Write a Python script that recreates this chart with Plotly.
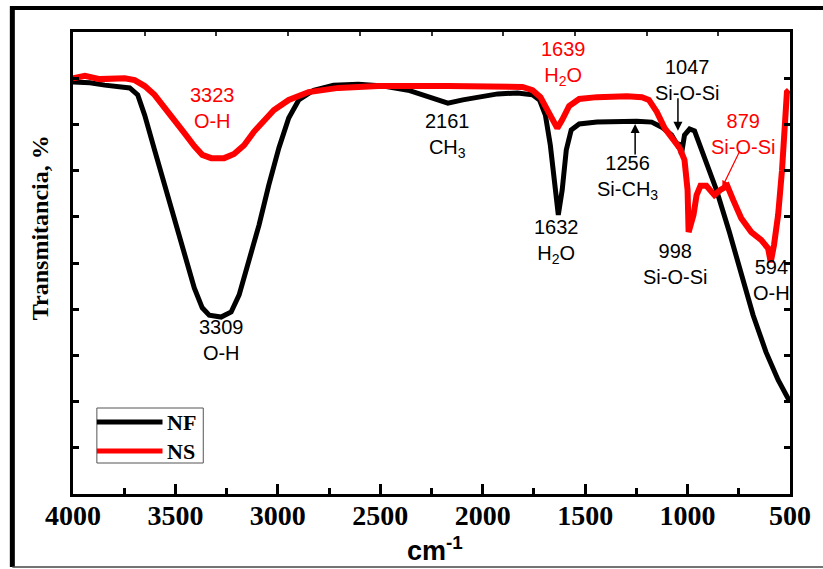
import plotly.graph_objects as go

# ---------------- data ----------------
nf_wn = [4000, 3917, 3845, 3772, 3723, 3684, 3650, 3602, 3553, 3505, 3456, 3408, 3369, 3335,
         3277, 3228, 3189, 3141, 3092, 3044, 2995, 2947, 2898, 2825, 2728, 2607, 2485, 2364,
         2267, 2170, 2097, 2024, 1927, 1830, 1757, 1723, 1694, 1670, 1650, 1631, 1612, 1592,
         1568, 1529, 1442, 1345, 1248, 1175, 1126, 1078, 1049, 1039, 1030, 1015, 990, 966,
         932, 898, 859, 796, 738, 680, 617, 558, 500]
nf_t = [89.2, 89.0, 88.5, 88.3, 87.9, 86.4, 82.0, 74.5, 66.9, 59.3, 51.7, 44.6, 40.3, 38.7,
        38.3, 39.4, 43.1, 50.2, 58.2, 66.9, 74.9, 81.4, 85.3, 87.4, 88.5, 88.7, 88.3, 87.4,
        86.1, 84.6, 85.3, 85.9, 86.6, 86.8, 86.4, 85.3, 82.0, 75.5, 66.9, 60.4, 65.8, 74.5,
        78.8, 80.1, 80.5, 80.7, 80.7, 80.5, 79.4, 77.7, 75.5, 76.0, 73.5, 77.7, 79.0, 78.6,
        74.5, 70.1, 65.8, 56.7, 47.4, 38.7, 30.7, 24.7, 19.9]

ns_wn = [4000, 3942, 3869, 3796, 3748, 3699, 3650, 3602, 3529, 3456, 3408, 3369, 3325, 3262,
         3214, 3165, 3117, 3068, 3019, 2947, 2850, 2704, 2510, 2170, 1927, 1806, 1757, 1718,
         1684, 1655, 1636, 1612, 1578, 1529, 1442, 1296, 1223, 1189, 1150, 1112, 1073, 1039,
         1015, 1000, 995, 971, 956, 937, 908, 869, 840, 806, 777, 738, 689, 641, 607, 594,
         578, 558, 539, 524, 515, 505]
ns_t = [90.0, 90.5, 89.8, 89.8, 90.0, 89.6, 88.3, 86.4, 82.5, 78.1, 75.3, 73.4, 72.7, 72.7,
        73.6, 75.5, 78.4, 81.0, 83.1, 85.3, 87.0, 87.9, 88.3, 88.3, 88.3, 88.1, 87.4, 85.9,
        83.1, 80.5, 79.2, 81.0, 84.0, 85.5, 85.9, 86.1, 85.9, 85.3, 82.7, 79.2, 76.6, 74.9,
        72.3, 65.8, 56.7, 60.4, 64.7, 66.7, 66.7, 64.7, 65.8, 66.7, 63.6, 59.7, 56.7, 55.0,
        53.2, 50.2, 53.9, 60.4, 70.1, 83.1, 87.0, 87.4]

series_names = ["NF", "NS"]
series_colors = ["#000000", "#ff0000"]

x_ticks = [4000, 3500, 3000, 2500, 2000, 1500, 1000, 500]

# peak labels: (wavenumber, y centre, text, color)
peak_labels = [
    (3320, 83.6, "3323<br>O-H", "#ff0000"),
    (3277, 33.3, "3309<br>O-H", "#000000"),
    (2170, 77.5, "2161<br>CH<sub>3</sub>", "#000000"),
    (1607, 93.2, "1639<br>H<sub>2</sub>O", "#ff0000"),
    (1641, 54.6, "1632<br>H<sub>2</sub>O", "#000000"),
    (1291, 68.4, "1256<br>Si-CH<sub>3</sub>", "#000000"),
    (1005, 89.6, "1047<br>Si-O-Si", "#000000"),
    (1063, 49.7, "998<br>Si-O-Si", "#000000"),
    (728, 78.0, "879<br>Si-O-Si", "#ff0000"),
    (588, 46.4, "594<br>O-H", "#000000"),
]

# ---------------- geometry helpers ----------------
W, H = 823, 569
L, R, T, B = 73, 29, 32, 75
PW, PH = W - L - R, H - T - B


def px(x):
    return (x - L) / PW


def py(y):
    return 1 - (y - T) / PH


serif = "Liberation Serif, Times New Roman, serif"
sans = "Liberation Sans, Arial, sans-serif"

fig = go.Figure()
fig.add_trace(go.Scatter(x=nf_wn, y=nf_t, mode="lines", name=series_names[0],
                         line=dict(color=series_colors[0], width=5), showlegend=False))
fig.add_trace(go.Scatter(x=ns_wn, y=ns_t, mode="lines", name=series_names[1],
                         line=dict(color=series_colors[1], width=6), showlegend=False))
# empty trace to activate the top tick axis
fig.add_trace(go.Scatter(x=[], y=[], xaxis="x2", showlegend=False, hoverinfo="skip"))

fig.update_layout(
    width=W, height=H,
    margin=dict(l=L, r=R, t=T, b=B, pad=0),
    paper_bgcolor="white", plot_bgcolor="white",
    font=dict(family=serif, color="black"),
    xaxis=dict(range=[4000, 500], tickvals=x_ticks, ticks="inside", ticklen=10, tickwidth=3,
               tickcolor="black", showline=True, linewidth=3, linecolor="black", mirror=True,
               showgrid=False, zeroline=False, ticklabelstandoff=-6,
               tickfont=dict(family=serif, size=28, color="black", weight="bold"),
               minor=dict(dtick=250, ticks="inside", ticklen=6, tickwidth=2.5, tickcolor="black")),
    xaxis2=dict(overlaying="x", side="top", range=[0, 10], dtick=1, ticks="inside", ticklen=4,
                tickwidth=1.5, tickcolor="#333", showticklabels=False, showgrid=False,
                zeroline=False, showline=False),
    yaxis=dict(range=[0, 100], dtick=10, ticks="inside", ticklen=6, tickwidth=2.5,
               tickcolor="black", showline=True, linewidth=3, linecolor="black", mirror="ticks",
               showgrid=False, zeroline=False, showticklabels=False),
    showlegend=False,
)

# peak labels
for xw, yv, txt, col in peak_labels:
    fig.add_annotation(x=xw, y=yv, text=txt, showarrow=False, xanchor="center",
                       yanchor="middle", font=dict(family=sans, size=20, color=col))

# arrows
fig.add_annotation(x=1256, y=80.1, ax=0, ay=32, text="", showarrow=True, arrowhead=2,
                   arrowsize=1.2, arrowwidth=1.5, arrowcolor="black")
fig.add_annotation(x=1047, y=78.6, ax=0, ay=-34, text="", showarrow=True, arrowhead=2,
                   arrowsize=1.2, arrowwidth=1.5, arrowcolor="black")
fig.add_annotation(x=830, y=66.5, ax=18, ay=-37, text="", showarrow=True, arrowhead=2,
                   arrowsize=1.0, arrowwidth=1.2, arrowcolor="#ff0000")

# axis titles
fig.add_annotation(xref="paper", yref="paper", x=px(40), y=py(228), text="Transmitancia, %",
                   textangle=-90, showarrow=False, xanchor="center", yanchor="middle",
                   font=dict(family=serif, size=24, color="black", weight="bold"))
fig.add_annotation(xref="paper", yref="paper", x=px(437), y=py(549), text="cm<sup>-1</sup>",
                   showarrow=False, xanchor="center", yanchor="middle",
                   font=dict(family=sans, size=27, color="black", weight="bold"))

# custom legend
fig.add_shape(type="rect", xref="paper", yref="paper", x0=px(97), x1=px(204), y0=py(463), y1=py(408),
              line=dict(color="#555", width=1), fillcolor="white", layer="above")
for i, (nm, col) in enumerate(zip(series_names, series_colors)):
    yy = 422 + 29 * i
    fig.add_shape(type="line", xref="paper", yref="paper", x0=px(97), x1=px(163), y0=py(yy), y1=py(yy),
                  line=dict(color=col, width=5), layer="above")
    fig.add_annotation(xref="paper", yref="paper", x=px(166), y=py(yy), text=nm, showarrow=False,
                       xanchor="left", yanchor="middle",
                       font=dict(family=serif, size=22, color="black", weight="bold"))

# outer image frame
fig.add_shape(type="line", xref="paper", yref="paper", x0=px(12), x1=px(12), y0=py(567), y1=py(6),
              line=dict(color="black", width=5))
fig.add_shape(type="line", xref="paper", yref="paper", x0=px(10), x1=px(830), y0=py(8), y1=py(8),
              line=dict(color="black", width=4))
fig.add_shape(type="line", xref="paper", yref="paper", x0=px(12), x1=px(830), y0=py(567), y1=py(567),
              line=dict(color="#444", width=1.5))

fig.write_html("out.html", config={"displayModeBar": False},
               post_script="document.body.style.margin='0';document.body.style.padding='0';"
                           "document.body.style.overflow='hidden';")
